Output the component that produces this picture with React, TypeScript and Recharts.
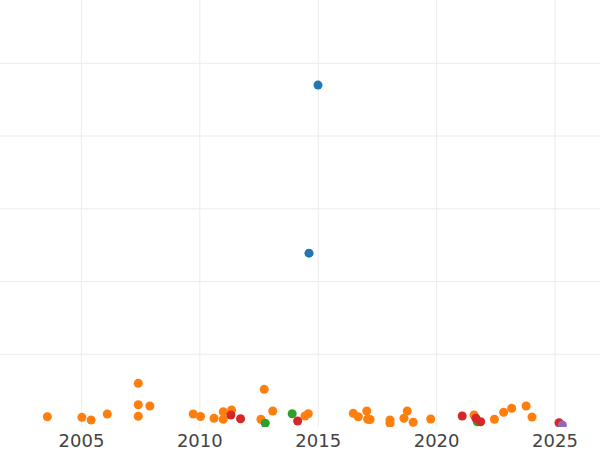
import { ScatterChart, Scatter, XAxis, YAxis, ZAxis, CartesianGrid } from "recharts";

const X_TICKS = [2005, 2010, 2015, 2020, 2025];
const Y_TICKS = [100, 200, 300, 400, 500];

const BLUE = [
  { year: 2014.99, value: 470 },
  { year: 2014.61, value: 239 },
];

const ORANGE = [
  { year: 2003.56, value: 14.1 },
  { year: 2005.02, value: 13.3 },
  { year: 2005.41, value: 9.6 },
  { year: 2006.09, value: 17.9 },
  { year: 2007.4, value: 60.0 },
  { year: 2007.4, value: 30.6 },
  { year: 2007.89, value: 28.8 },
  { year: 2007.4, value: 14.7 },
  { year: 2009.72, value: 17.9 },
  { year: 2010.03, value: 14.4 },
  { year: 2010.6, value: 12.0 },
  { year: 2010.99, value: 21.0 },
  { year: 2010.99, value: 10.6 },
  { year: 2011.34, value: 23.4 },
  { year: 2012.72, value: 51.8 },
  { year: 2012.58, value: 10.6 },
  { year: 2013.08, value: 22.0 },
  { year: 2014.44, value: 15.1 },
  { year: 2014.58, value: 18.3 },
  { year: 2016.48, value: 18.8 },
  { year: 2016.69, value: 14.1 },
  { year: 2017.05, value: 22.0 },
  { year: 2017.09, value: 10.6 },
  { year: 2017.19, value: 10.3 },
  { year: 2018.03, value: 9.6 },
  { year: 2018.03, value: 5.1 },
  { year: 2018.76, value: 22.0 },
  { year: 2018.62, value: 12.0 },
  { year: 2019.01, value: 6.5 },
  { year: 2019.75, value: 11.0 },
  { year: 2021.58, value: 16.5 },
  { year: 2022.44, value: 10.6 },
  { year: 2022.83, value: 20.2 },
  { year: 2023.17, value: 25.7 },
  { year: 2023.78, value: 28.8 },
  { year: 2024.03, value: 13.7 },
];

const GREEN = [
  { year: 2012.76, value: 5.1 },
  { year: 2013.9, value: 18.3 },
  { year: 2021.72, value: 7.3 },
];

const RED = [
  { year: 2011.31, value: 16.5 },
  { year: 2011.72, value: 11.4 },
  { year: 2014.13, value: 8.2 },
  { year: 2021.08, value: 15.1 },
  { year: 2021.66, value: 12.0 },
  { year: 2021.86, value: 7.3 },
  { year: 2025.17, value: 5.9 },
];

const PURPLE = [{ year: 2025.31, value: 2.7 }];

export default function App() {
  return (
    <div style={{ position: "absolute", left: 0, top: 0, background: "#fff" }}>
      <ScatterChart width={600} height={450} margin={{ top: 0, right: 0, bottom: 0, left: 0 }}>
        <CartesianGrid stroke="#ebebeb" syncWithTicks />
        <XAxis
          type="number"
          dataKey="year"
          domain={[2001.56, 2026.9]}
          ticks={X_TICKS}
          allowDataOverflow
          axisLine={false}
          tickLine={false}
          tickSize={0}
          tickMargin={7}
          height={23}
          tick={{ fill: "#444", fontSize: 18, fontFamily: "DejaVu Sans" }}
        />
        <YAxis type="number" dataKey="value" domain={[0, 587]} ticks={Y_TICKS} allowDataOverflow hide width={0} />
        <ZAxis range={[66, 66]} />
        <Scatter data={BLUE} fill="#1f77b4" isAnimationActive={false} />
        <Scatter data={ORANGE} fill="#ff7f0e" isAnimationActive={false} />
        <Scatter data={GREEN} fill="#2ca02c" isAnimationActive={false} />
        <Scatter data={RED} fill="#d62728" isAnimationActive={false} />
        <Scatter data={PURPLE} fill="#9467bd" isAnimationActive={false} />
      </ScatterChart>
    </div>
  );
}
